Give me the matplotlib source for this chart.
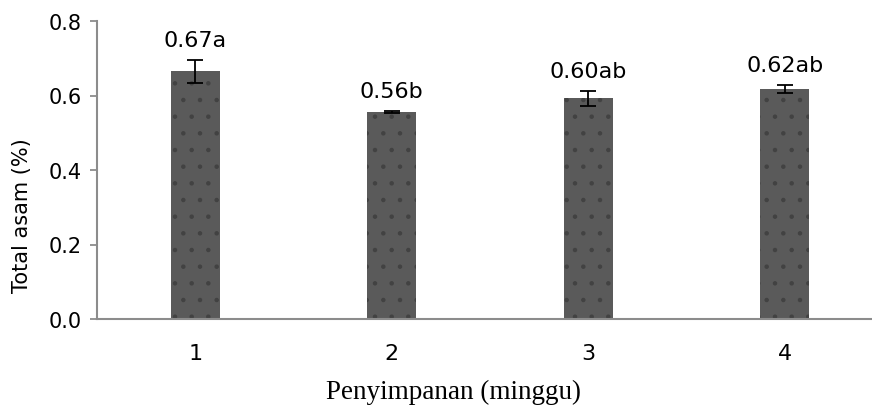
import matplotlib.pyplot as plt
import matplotlib as mpl

# Data
weeks = ["1", "2", "3", "4"]
means = [0.665, 0.556, 0.593, 0.618]
errors = [0.031, 0.002, 0.020, 0.010]
labels = ["0.67a", "0.56b", "0.60ab", "0.62ab"]

SANS = ["DejaVu Sans"]
SERIF = ["Liberation Serif", "DejaVu Serif"]
AXIS_GREY = "#8c8c8c"

mpl.rcParams["hatch.linewidth"] = 0.8

fig = plt.figure(figsize=(8.72, 4.10), dpi=100)
ax = fig.add_axes([97 / 872, 90 / 410, 786 / 872, 298 / 410])

x = range(1, len(weeks) + 1)
ax.bar(x, means, width=0.25, color="#5a5a5a", hatch=".", edgecolor="#424242",
       linewidth=0)
ax.errorbar(x, means, yerr=errors, fmt="none", ecolor="black",
            elinewidth=1.3, capsize=6, capthick=1.3)

for xi, m, e, lab in zip(x, means, errors, labels):
    ax.annotate(lab, (xi, m + e), xytext=(0, 7), textcoords="offset points",
                ha="center", va="bottom", fontsize=16, family=SANS)

ax.set_xlim(0.5, 4.5)
ax.set_ylim(0, 0.8)
ax.set_yticks([0.0, 0.2, 0.4, 0.6, 0.8])
ax.set_yticklabels([f"{v:.1f}" for v in ax.get_yticks()], family=SANS, fontsize=15)
ax.set_xticks(list(x))
ax.set_xticklabels(weeks, family=SANS, fontsize=16)

ax.tick_params(axis="x", length=0, pad=17)
ax.tick_params(axis="y", length=5, width=1.3, color=AXIS_GREY, direction="out", pad=6)

for side in ["top", "right"]:
    ax.spines[side].set_visible(False)
for side in ["left", "bottom"]:
    ax.spines[side].set_color(AXIS_GREY)
    ax.spines[side].set_linewidth(1.5)

ax.set_ylabel("Total asam (%)", family=SANS, fontsize=15)
ax.yaxis.set_label_coords(-0.083, 0.35)
ax.set_xlabel("Penyimpanan (minggu)", family=SERIF, fontsize=19.5)
ax.xaxis.set_label_coords(0.454, -0.2)

fig.savefig("out.png", dpi=100)
